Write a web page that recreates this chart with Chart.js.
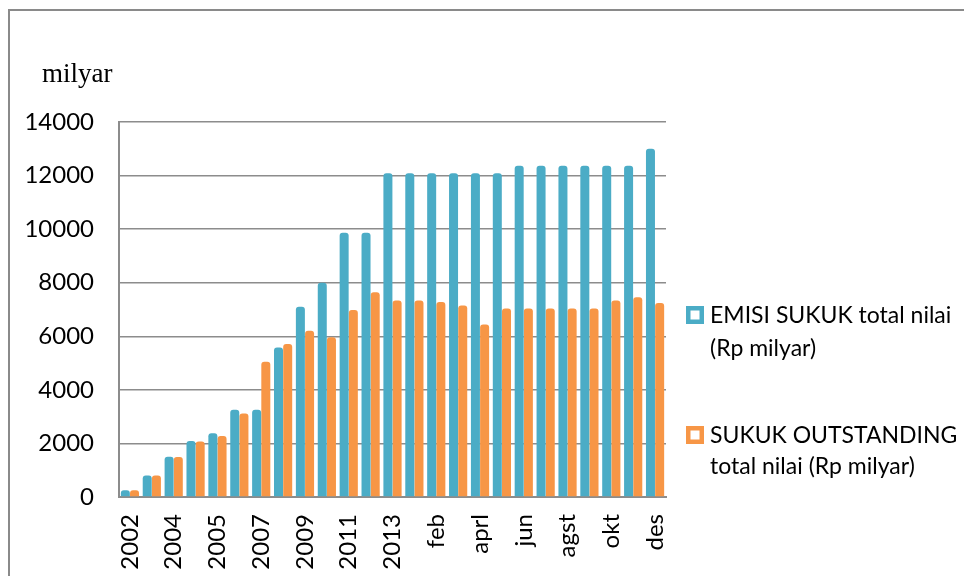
<!DOCTYPE html>
<html>
<head>
<meta charset="utf-8">
<script src="https://cdn.jsdelivr.net/npm/chart.js@4"></script>
<style>
  html, body { margin: 0; padding: 0; background: #fff; }
  #wrap { width: 964px; height: 576px; }
</style>
</head>
<body>
<div id="wrap"><canvas id="c" width="964" height="576"></canvas></div>
<script>
// kategori (label yang tidak tampil di sumbu tetap disimpan)
const categories = ['2002', '2003', '2004', '2004', '2005', '2006', '2007', '2008', '2009', '2010',
  '2011', '2012', '2013', 'jan', 'feb', 'mar', 'aprl', 'mei', 'jun', 'jul', 'agst', 'sept', 'okt', 'nov', 'des'];

// EMISI SUKUK total nilai (Rp milyar)
const emisi = [250, 800, 1500, 2090, 2380, 3260, 3260, 5580, 7100, 8000, 9870, 9870, 12090,
  12090, 12090, 12090, 12090, 12090, 12370, 12370, 12370, 12370, 12370, 12370, 13000];

// SUKUK OUTSTANDING total nilai (Rp milyar)
const outstanding = [250, 800, 1490, 2070, 2280, 3120, 5050, 5710, 6210, 5960, 6980, 7640, 7340,
  7340, 7280, 7150, 6440, 7040, 7040, 7040, 7040, 7040, 7340, 7460, 7240];

const seriesNames = ['EMISI SUKUK total nilai (Rp milyar)', 'SUKUK OUTSTANDING total nilai (Rp milyar)'];
const legendLines = [['EMISI SUKUK total nilai', '(Rp milyar)'], ['SUKUK OUTSTANDING', 'total nilai (Rp milyar)']];
const yTicks = [0, 2000, 4000, 6000, 8000, 10000, 12000, 14000];
const unitLabel = 'milyar';

const BLUE = '#4BACC6';
const ORANGE = '#F79646';
const GRID = '#8C8C8C';
const FONT = 'Lato, "Open Sans", sans-serif';

// bingkai, teks "milyar" dan legenda manual
const decorations = {
  id: 'decorations',
  beforeDraw(chart) {
    const ctx = chart.ctx;
    ctx.save();
    ctx.fillStyle = '#fff';
    ctx.fillRect(0, 0, chart.width, chart.height);
    ctx.strokeStyle = '#8A8A8A';
    ctx.lineWidth = 2;
    ctx.beginPath();
    ctx.moveTo(9, chart.height);
    ctx.lineTo(9, 10);
    ctx.lineTo(chart.width, 10);
    ctx.stroke();
    ctx.restore();
  },
  afterDraw(chart) {
    const ctx = chart.ctx;
    ctx.save();
    ctx.fillStyle = '#000';
    ctx.font = '27px "Liberation Serif", serif';
    ctx.textBaseline = 'alphabetic';
    ctx.fillText(unitLabel, 42, 82);

    const tops = [306, 426];
    const lineGap = [33, 31];
    chart.data.datasets.forEach((ds, i) => {
      const y = tops[i];
      ctx.fillStyle = '#fff';
      ctx.fillRect(686, y, 18, 18);
      ctx.strokeStyle = ds.backgroundColor;
      ctx.lineWidth = 4.5;
      ctx.strokeRect(688.25, y + 2.25, 13.5, 13.5);
      ctx.fillStyle = '#000';
      ctx.font = '23px ' + FONT;
      legendLines[i].forEach((line, k) => {
        ctx.fillText(line, 710, y + 17 + k * lineGap[i]);
      });
    });
    ctx.restore();
  }
};

new Chart(document.getElementById('c'), {
  type: 'bar',
  data: {
    labels: categories,
    datasets: [
      {
        label: seriesNames[0],
        data: emisi,
        backgroundColor: BLUE,
        borderRadius: { topLeft: 3, topRight: 3 },
        borderSkipped: 'bottom',
        categoryPercentage: 0.84,
        barPercentage: 0.98,
      },
      {
        label: seriesNames[1],
        data: outstanding,
        backgroundColor: ORANGE,
        borderRadius: { topLeft: 3, topRight: 3 },
        borderSkipped: 'bottom',
        categoryPercentage: 0.84,
        barPercentage: 0.98,
      },
    ],
  },
  options: {
    responsive: false,
    animation: false,
    layout: { padding: { left: 0, top: 122, right: 298, bottom: 0 } },
    plugins: {
      legend: { display: false },
      tooltip: { enabled: false },
    },
    scales: {
      x: {
        grid: { display: false, drawTicks: false },
        border: { display: true, color: GRID, width: 2 },
        ticks: {
          autoSkip: false,
          minRotation: 90,
          maxRotation: 90,
          padding: 17,
          color: '#000',
          font: { family: FONT, size: 24 },
          callback: (v, i) => (i % 2 === 0 ? categories[i] : ''),
        },
        afterFit: (s) => { s.height = 79; },
      },
      y: {
        min: 0,
        max: 14000,
        afterBuildTicks: (s) => { s.ticks = yTicks.map((v) => ({ value: v })); },
        grid: { color: GRID, lineWidth: 1.5, drawTicks: false },
        border: { display: true, color: GRID, width: 2 },
        ticks: {
          padding: 25,
          color: '#000',
          font: { family: FONT, size: 24 },
          callback: (v) => String(v),
        },
        afterFit: (s) => { s.width = 119; },
      },
    },
  },
  plugins: [decorations],
});
</script>
</body>
</html>
